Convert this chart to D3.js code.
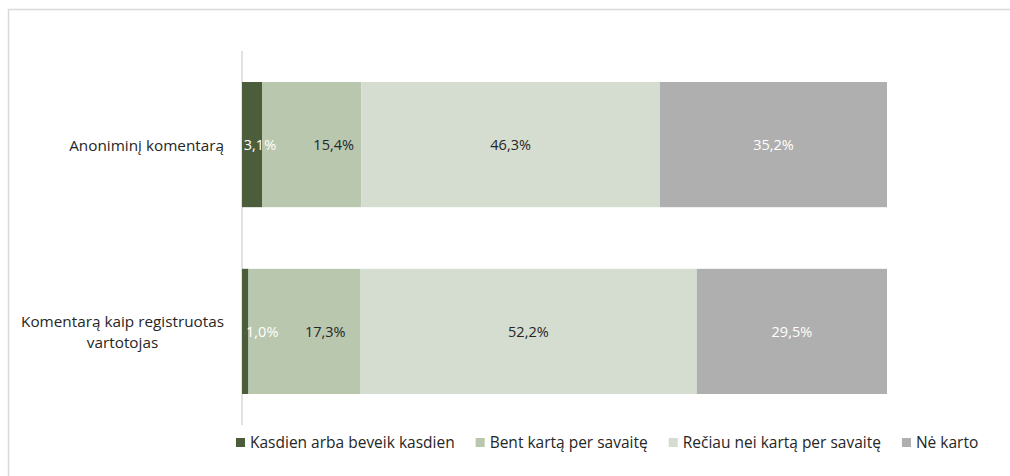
<!DOCTYPE html>
<html><head><meta charset="utf-8">
<script src="https://cdn.jsdelivr.net/npm/d3@7"></script>
<style>
body { margin:0; background:#fff; }
text { font-family: "Open Sans", sans-serif; }
</style>
</head><body>
<svg id="chart" width="1010" height="476"></svg>
<script>
// categories (top to bottom) and series, values in %
var categories = ["Anoniminį komentarą", "Komentarą kaip registruotas vartotojas"];
var seriesNames = ["Kasdien arba beveik kasdien", "Bent kartą per savaitę", "Rečiau nei kartą per savaitę", "Nė karto"];
var kasdien = [3.1, 1.0];
var bentKarta = [15.4, 17.3];
var reciau = [46.3, 52.2];
var neKarto = [35.2, 29.5];

var colors = ["#4b5d3b", "#b9c7ae", "#d5ddd1", "#afafaf"];
var labelColors = ["#ffffff", "#262626", "#262626", "#ffffff"];

var svg = d3.select("#chart"),
  width = 1010, height = 476,
  margin = {top: 51, left: 242, right: 123, bottom: 51};

// outer frame
svg.append("rect")
  .attr("x", 8.5).attr("y", 9.5)
  .attr("width", width).attr("height", height)
  .attr("fill", "none").attr("stroke", "#d9d9d9").attr("stroke-width", 1.5);

var rows = categories.map(function(c, i) {
  return {cat: c, kasdien: kasdien[i], bent: bentKarta[i], reciau: reciau[i], ne: neKarto[i]};
});
var keys = ["kasdien", "bent", "reciau", "ne"];
var stacked = d3.stack().keys(keys)(rows);

var x = d3.scaleLinear().domain([0, 100]).range([margin.left, width - margin.right]);
var y = d3.scaleBand().domain(categories)
  .range([margin.top, height - margin.bottom])
  .paddingInner(0.33).paddingOuter(0.166);

// category axis line
svg.append("line")
  .attr("x1", margin.left).attr("x2", margin.left)
  .attr("y1", margin.top).attr("y2", height - margin.bottom)
  .attr("stroke", "#d9d9d9").attr("stroke-width", 1.5);

var layer = svg.selectAll("g.layer")
  .data(stacked)
  .enter().append("g")
  .attr("class", "layer")
  .attr("fill", function(d, i) { return colors[i]; });

layer.selectAll("rect")
  .data(function(d) { return d; })
  .enter().append("rect")
  .attr("x", function(d) { return x(d[0]); })
  .attr("y", function(d) { return y(d.data.cat); })
  .attr("width", function(d) { return x(d[1]) - x(d[0]); })
  .attr("height", y.bandwidth());

// data labels on top of all bars; the first two series were nudged right in the original
var nudge = {kasdien: [8, 17], bent: [22, 21]};
var labels = [];
stacked.forEach(function(s, i) {
  s.forEach(function(p, j) { labels.push({p: p, key: s.key, s: i, r: j}); });
});
svg.append("g").selectAll("text")
  .data(labels)
  .enter().append("text")
  .attr("x", function(d) {
    var dx = nudge[d.key] ? nudge[d.key][d.r] : 0;
    return (x(d.p[0]) + x(d.p[1])) / 2 + dx;
  })
  .attr("y", function(d) { return y(d.p.data.cat) + y.bandwidth() / 2 + 2; })
  .attr("text-anchor", "middle")
  .attr("dominant-baseline", "middle")
  .style("font-size", "14.5px")
  .attr("fill", function(d) { return labelColors[d.s]; })
  .text(function(d) { return d3.format(".1f")(d.p[1] - d.p[0]).replace(".", ",") + "%"; });

// category labels, wrapped like the original
var wrapped = [["Anoniminį komentarą"], ["Komentarą kaip registruotas", "vartotojas"]];
categories.forEach(function(c, i) {
  var lines = wrapped[i];
  var cy = y(c) + y.bandwidth() / 2;
  var lh = 21;
  lines.forEach(function(l, k) {
    svg.append("text")
      .attr("class", "cat")
      .attr("data-row", i)
      .attr("text-anchor", "middle")
      .attr("y", cy + (k - (lines.length - 1) / 2) * lh + 6)
      .style("font-size", "15.3px")
      .attr("fill", "#262626")
      .text(l);
  });
  // right align the block to the axis, lines centred within it
  var ts = svg.selectAll("text.cat[data-row='" + i + "']");
  var w = d3.max(ts.nodes(), function(n) { return n.getComputedTextLength(); });
  ts.attr("x", 224 - w / 2);
});

// legend
var lg = svg.append("g");
var lx = 236;
seriesNames.forEach(function(n, i) {
  lg.append("rect").attr("x", lx).attr("y", 438).attr("width", 9).attr("height", 9).attr("fill", colors[i]);
  var t = lg.append("text").attr("x", lx + 14).attr("y", 448)
    .style("font-size", "15.5px").attr("fill", "#262626").text(n);
  lx += 14 + t.node().getComputedTextLength() + 21;
});
</script></body></html>
